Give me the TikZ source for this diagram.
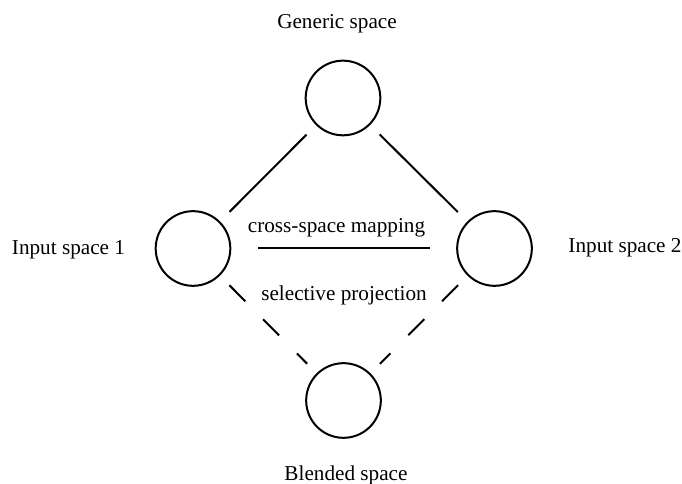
\documentclass[tikz,border=0pt]{standalone}
\usepackage{fontspec}
\setmainfont{Liberation Serif}

\tikzset{
    space/.style={draw, circle, line width=1.5pt, minimum size=56pt, inner sep=0pt},
    link/.style={line width=1.5pt, shorten <=10pt, shorten >=10pt},
    proj/.style={link, dash pattern=on 17pt off 19pt},
}

\begin{document}
\begin{tikzpicture}[x=0.75pt, y=0.75pt]
            \useasboundingbox (0,0) rectangle (682,484);
            \fontsize{15.9}{19}\selectfont

            % the four spaces
            \node[space] (generic) at (343,386) {};
            \node[space] (input1) at (193,235.5) {};
            \node[space] (input2) at (494.5,235.5) {};
            \node[space] (blend) at (343.5,83.5) {};

            \node[anchor=base] (genericlbl) at (337,455) {Generic space};
            \node[anchor=base] (input1lbl) at (68.5,229) {Input space 1};
            \node[anchor=base] (input2lbl) at (625,231) {Input space 2};
            \node[anchor=base] (blendlbl) at (346,3) {Blended space};

            \draw[link] (input1) -- (generic);
            \draw[link] (input2) -- (generic);
            \draw[link, shorten <=20pt, shorten >=20pt] (input1) -- (input2);
            \draw[proj] (input1) -- (blend);
            \draw[proj] (input2) -- (blend);

            \node[anchor=base] (maplbl) at (336.5,251) {cross-space mapping};
            \node[anchor=base] (projlbl) at (344,183) {selective projection};
        \end{tikzpicture}
\end{document}
